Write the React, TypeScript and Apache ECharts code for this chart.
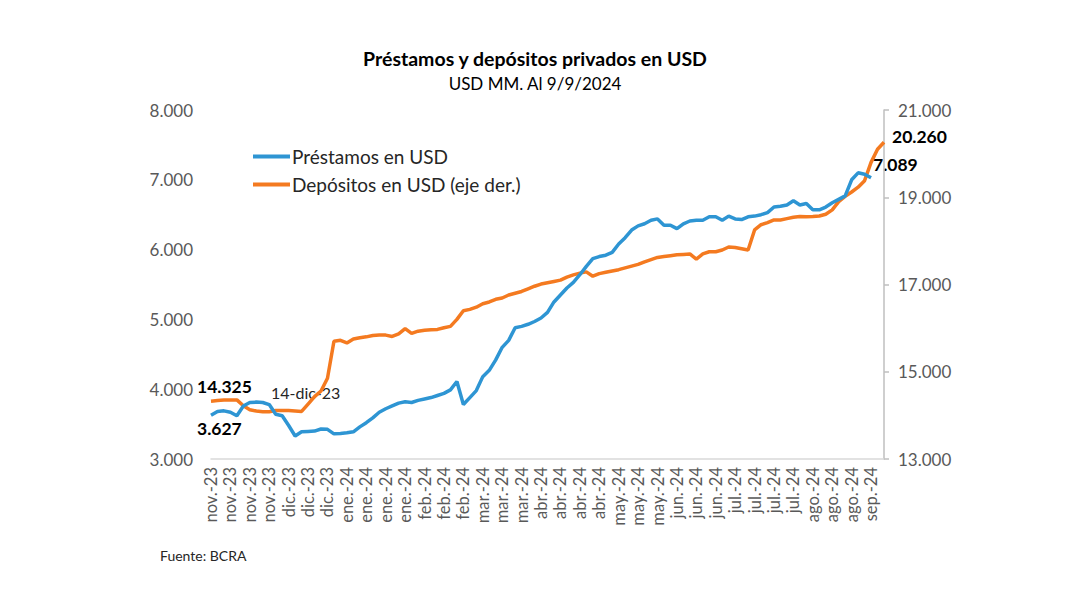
import React, { useEffect, useRef } from "react";
import * as echarts from "echarts";

const tickLabels = [
  "nov.-23", "nov.-23", "nov.-23", "nov.-23",
  "dic.-23", "dic.-23", "dic.-23",
  "ene.-24", "ene.-24", "ene.-24", "ene.-24",
  "feb.-24", "feb.-24", "feb.-24",
  "mar.-24", "mar.-24", "mar.-24",
  "abr.-24", "abr.-24", "abr.-24", "abr.-24",
  "may.-24", "may.-24", "may.-24",
  "jun.-24", "jun.-24", "jun.-24",
  "jul.-24", "jul.-24", "jul.-24", "jul.-24",
  "ago.-24", "ago.-24", "ago.-24",
  "sep.-24",
];
const pointsPerTick = 3;

// Préstamos en USD (left axis), USD MM
const prestamos = [
  3627, 3680, 3690, 3670, 3620, 3760, 3810, 3815, 3810, 3780,
  3640, 3620, 3480, 3330, 3390, 3395, 3400, 3430, 3425, 3360,
  3365, 3375, 3390, 3460, 3520, 3590, 3670, 3720, 3760, 3800,
  3820, 3810, 3840, 3860, 3880, 3910, 3940, 3990, 4110, 3780,
  3880, 3980, 4180, 4270, 4420, 4600, 4700, 4880, 4900, 4930,
  4970, 5020, 5100, 5250, 5350, 5450, 5530, 5640, 5760, 5870,
  5900, 5920, 5960, 6080, 6170, 6280, 6340, 6370, 6420, 6440,
  6350, 6350, 6300, 6370, 6410, 6420, 6420, 6470, 6470, 6420,
  6480, 6440, 6430, 6470, 6480, 6500, 6530, 6610, 6620, 6640,
  6700, 6640, 6660, 6570, 6570, 6610, 6670, 6720, 6770, 7000,
  7100, 7080, 7030,
];

// Depósitos en USD (right axis), USD MM
const depositos = [
  14325, 14340, 14350, 14350, 14355, 14220, 14130, 14100, 14085, 14085,
  14110, 14110, 14110, 14100, 14090, 14260, 14430, 14560, 14850, 15700,
  15720, 15660, 15750, 15780, 15800, 15830, 15840, 15840, 15810, 15870,
  15990, 15880, 15930, 15950, 15960, 15970, 16010, 16040, 16200, 16400,
  16430, 16480, 16560, 16600, 16660, 16690, 16760, 16800, 16840, 16900,
  16960, 17010, 17040, 17070, 17100, 17170, 17220, 17260, 17290, 17190,
  17250, 17280, 17310, 17340, 17380, 17420, 17460, 17520, 17570, 17620,
  17640, 17660, 17680, 17690, 17700, 17580, 17700, 17750, 17750, 17790,
  17860, 17850, 17820, 17790, 18250, 18370, 18420, 18480, 18480, 18510,
  18540, 18560, 18555, 18560, 18570, 18610, 18710, 18900, 19020, 19120,
  19230, 19380, 19800, 20100, 20260,
];

const leftTicks = { min: 3000, max: 8000, interval: 1000 };
const rightTicks = { min: 13000, max: 21000, interval: 2000 };

const FONT = "Lato, 'Open Sans', sans-serif";
const BLUE = "#2e95d3";
const ORANGE = "#f47a20";

const fmt = (v: number) =>
  String(Math.round(v)).replace(/\B(?=(\d{3})+(?!\d))/g, ".");

export default function App() {
  const ref = useRef<HTMLDivElement>(null);

  useEffect(() => {
    if (!ref.current) return;
    const chart = echarts.init(ref.current, undefined, { renderer: "svg" });

    const categories: string[] = [];
    for (let i = 0; i < tickLabels.length * pointsPerTick; i++) {
      categories.push(tickLabels[Math.floor(i / pointsPerTick)]);
    }
    const blueData: (number | null)[] = categories.map((_, i) =>
      i < prestamos.length ? prestamos[i] : null
    );

    chart.setOption({
      animation: false,
      backgroundColor: "#ffffff",
      textStyle: { fontFamily: FONT },
      grid: { left: 211, right: 196, top: 110, bottom: 150, containLabel: false },
      legend: {
        orient: "vertical",
        left: 248,
        top: 142,
        itemWidth: 37,
        itemHeight: 4,
        itemGap: 9,
        icon: "rect",
        textStyle: { fontFamily: FONT, fontSize: 19, color: "#262626", padding: [0, 0, 0, -3] },
        data: ["Préstamos en USD", "Depósitos en USD (eje der.)"],
      },
      xAxis: {
        type: "category",
        boundaryGap: false,
        data: categories,
        axisLine: { show: true, lineStyle: { color: "#d9d9d9", width: 1.5 } },
        axisTick: { show: false },
        splitLine: { show: false },
        axisLabel: {
          rotate: 90,
          interval: pointsPerTick - 1,
          color: "#595959",
          fontFamily: FONT,
          fontSize: 16.5,
          margin: 8,
        },
      },
      yAxis: [
        {
          type: "value",
          position: "left",
          min: leftTicks.min,
          max: leftTicks.max,
          interval: leftTicks.interval,
          axisLine: { show: false },
          axisTick: { show: false },
          splitLine: { show: false },
          axisLabel: {
            color: "#595959",
            fontFamily: FONT,
            fontSize: 17,
            margin: 18,
            formatter: (v: number) => fmt(v),
          },
        },
        {
          type: "value",
          position: "right",
          min: rightTicks.min,
          max: rightTicks.max,
          interval: rightTicks.interval,
          axisLine: { show: true, lineStyle: { color: "#bfbfbf", width: 1.5 } },
          axisTick: { show: true, length: 5, lineStyle: { color: "#bfbfbf", width: 1.5 } },
          splitLine: { show: false },
          axisLabel: {
            color: "#595959",
            fontFamily: FONT,
            fontSize: 17,
            margin: 14,
            formatter: (v: number) => fmt(v),
          },
        },
      ],
      series: [
        {
          name: "Préstamos en USD",
          type: "line",
          yAxisIndex: 0,
          data: blueData,
          showSymbol: false,
          symbol: "none",
          lineStyle: { color: BLUE, width: 3.5 },
          itemStyle: { color: BLUE },
          z: 3,
        },
        {
          name: "Depósitos en USD (eje der.)",
          type: "line",
          yAxisIndex: 1,
          data: depositos,
          showSymbol: false,
          symbol: "none",
          lineStyle: { color: ORANGE, width: 3.5 },
          itemStyle: { color: ORANGE },
          z: 2,
        },
      ],
      graphic: [
        {
          type: "text",
          x: 535,
          y: 48,
          style: {
            text: "Préstamos y depósitos privados en USD",
            fontFamily: FONT,
            fontWeight: "bold",
            fontSize: 19.5,
            fill: "#000000",
            align: "center",
            verticalAlign: "top",
          },
        },
        {
          type: "text",
          x: 535,
          y: 75,
          style: {
            text: "USD MM. Al 9/9/2024",
            fontFamily: FONT,
            fontSize: 17,
            fill: "#000000",
            align: "center",
            verticalAlign: "top",
          },
        },
        {
          type: "text",
          left: 197,
          top: 377,
          style: { text: "14.325", fontFamily: FONT, fontWeight: "bold", fontSize: 17.5, fill: "#000000" },
        },
        {
          type: "text",
          left: 197,
          top: 419,
          style: { text: "3.627", fontFamily: FONT, fontWeight: "bold", fontSize: 17.5, fill: "#000000" },
        },
        {
          type: "text",
          left: 271,
          top: 384,
          style: { text: "14-dic-23", fontFamily: FONT, fontSize: 16, fill: "#262626" },
        },
        {
          type: "text",
          left: 892,
          top: 127,
          style: { text: "20.260", fontFamily: FONT, fontWeight: "bold", fontSize: 17.5, fill: "#000000" },
        },
        {
          type: "text",
          left: 873,
          top: 155,
          style: { text: "7.089", fontFamily: FONT, fontWeight: "bold", fontSize: 17.5, fill: "#000000" },
        },
        {
          type: "text",
          left: 160,
          top: 548,
          style: { text: "Fuente: BCRA", fontFamily: FONT, fontSize: 14, fill: "#262626" },
        },
      ],
    });

    return () => chart.dispose();
  }, []);

  return (
    <div
      ref={ref}
      style={{ width: 1080, height: 609, position: "absolute", left: 0, top: 0 }}
    />
  );
}
